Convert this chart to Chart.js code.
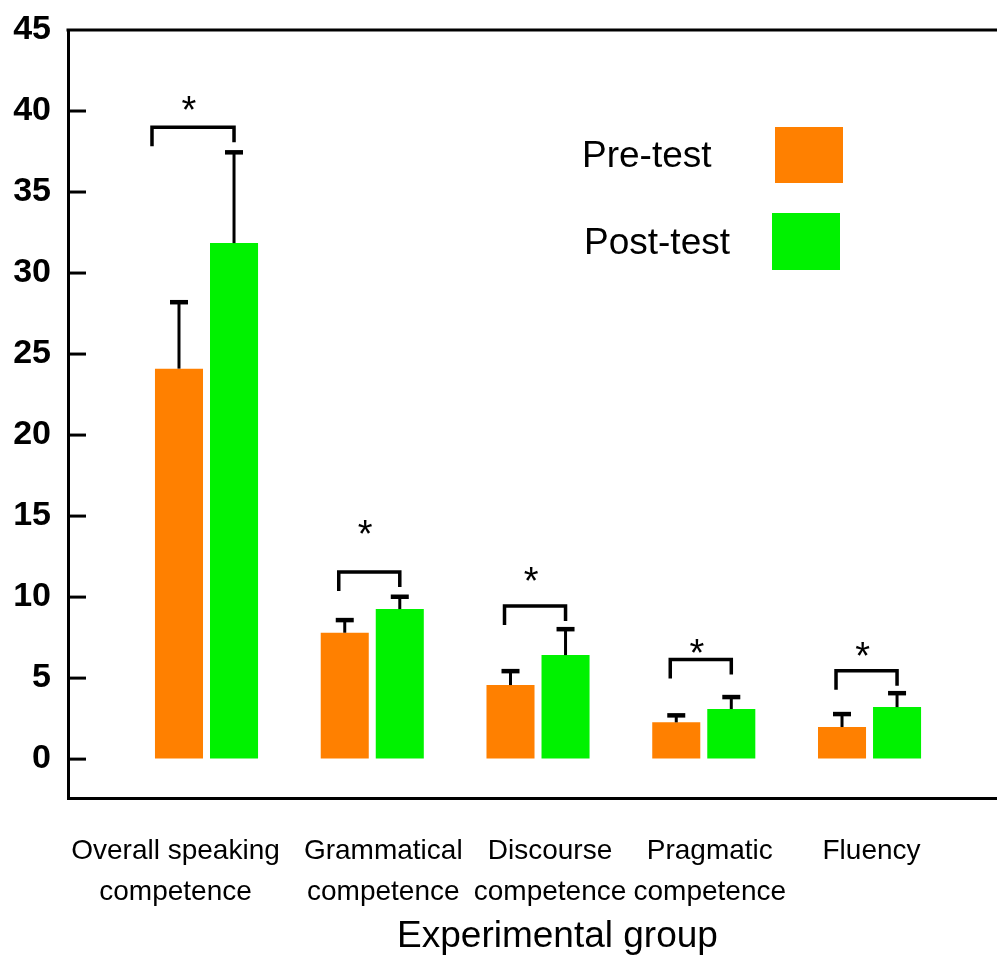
<!DOCTYPE html>
<html>
<head>
<meta charset="utf-8">
<script src="https://cdn.jsdelivr.net/npm/chart.js@4.4.0/dist/chart.umd.min.js"></script>
<style>
  html, body { margin: 0; padding: 0; background: #fff; }
  #wrap { width: 997px; height: 961px; }
</style>
</head>
<body>
<div id="wrap"><canvas id="speakingChart"></canvas></div>
<script>
// values
const categories = [
  ['Overall speaking', 'competence'],
  ['Grammatical', 'competence'],
  ['Discourse', 'competence'],
  ['Pragmatic', 'competence'],
  ['Fluency']
];
const preTest  = [24.1, 7.8, 4.57, 2.27, 1.98];
const postTest = [31.85, 9.26, 6.42, 3.09, 3.21];
const preErr   = [4.1, 0.78, 0.86, 0.43, 0.8];
const postErr  = [5.6, 0.76, 1.6, 0.74, 0.86];
// significance brackets (*) : bracket height and star height, in score units
const bracketTop = [39.0, 11.55, 9.45, 6.15, 5.45];
const starLevel  = [40.6, 14.4, 11.5, 7.1, 6.9];
const yTicks = [0, 5, 10, 15, 20, 25, 30, 35, 40, 45];

const ORANGE = '#ff8000';
const GREEN = '#00f200';
const FONT = "'Liberation Sans', Arial, sans-serif";
// small horizontal nudges (px) so the category labels sit like the original
const labelNudge = [-31, 11, 12, 6, 2];
const bracketNudge = [-21, 0, 0, 0, 0];

const extras = {
  id: 'extras',
  afterDatasetsDraw(chart) {
    const ctx = chart.ctx;
    const area = chart.chartArea;
    const x = chart.scales.x;
    const y = chart.scales.y;
    const pre = chart.getDatasetMeta(0).data;
    const post = chart.getDatasetMeta(1).data;
    ctx.save();
    ctx.strokeStyle = '#000';
    ctx.fillStyle = '#000';

    // top frame line
    ctx.lineWidth = 3;
    ctx.beginPath();
    ctx.moveTo(area.left - 1.5, area.top);
    ctx.lineTo(chart.width, area.top);
    ctx.stroke();

    // inward tick marks
    yTicks.forEach(v => {
      if (v === 45) return;
      const py = y.getPixelForValue(v);
      ctx.beginPath();
      ctx.moveTo(area.left, py);
      ctx.lineTo(area.left + 18, py);
      ctx.stroke();
    });

    // error bars (upper only)
    const drawErr = (bar, val, err) => {
      const top = y.getPixelForValue(val + err);
      ctx.lineWidth = 3;
      ctx.beginPath();
      ctx.moveTo(bar.x, bar.y);
      ctx.lineTo(bar.x, top);
      ctx.stroke();
      ctx.lineWidth = 4.5;
      ctx.beginPath();
      ctx.moveTo(bar.x - 9, top);
      ctx.lineTo(bar.x + 9, top);
      ctx.stroke();
    };
    preTest.forEach((v, i) => drawErr(pre[i], v, preErr[i]));
    postTest.forEach((v, i) => drawErr(post[i], v, postErr[i]));

    // brackets + stars
    ctx.lineWidth = 3.5;
    ctx.font = '38px ' + FONT;
    ctx.textAlign = 'center';
    ctx.textBaseline = 'alphabetic';
    bracketTop.forEach((b, i) => {
      const x1 = pre[i].x - 6 + bracketNudge[i];
      const x2 = post[i].x;
      const by = y.getPixelForValue(b);
      ctx.beginPath();
      ctx.moveTo(x1, by + 19);
      ctx.lineTo(x1, by);
      ctx.lineTo(x2, by);
      ctx.lineTo(x2, by + 15);
      ctx.stroke();
      const sy = y.getPixelForValue(starLevel[i]);
      ctx.fillText('*', (x1 + x2) / 2 - 4, sy + 0.57 * 38);
    });

    // category labels under the x axis
    ctx.font = '28px ' + FONT;
    categories.forEach((lines, i) => {
      const cx = x.getPixelForValue(i + 1) + labelNudge[i];
      lines.forEach((t, k) => ctx.fillText(t, cx, area.bottom + 61 + k * 41));
    });

    // axis title
    ctx.font = '37px ' + FONT;
    ctx.fillText('Experimental group', (area.left + area.right) / 2 + 25, 947);

    // legend
    ctx.textAlign = 'left';
    ctx.font = '37px ' + FONT;
    ctx.fillText('Pre-test', 582, 167);
    ctx.fillText('Post-test', 584, 254);
    ctx.fillStyle = ORANGE;
    ctx.fillRect(775, 127, 68, 56);
    ctx.fillStyle = GREEN;
    ctx.fillRect(772, 213, 68, 57);
    ctx.restore();
  }
};

new Chart(document.getElementById('speakingChart'), {
  type: 'bar',
  data: {
    datasets: [{
      label: 'Pre-test',
      data: preTest.map((v, i) => ({ x: i + 1, y: v })),
      backgroundColor: ORANGE,
      categoryPercentage: 0.664,
      barPercentage: 0.873
    }, {
      label: 'Post-test',
      data: postTest.map((v, i) => ({ x: i + 1, y: v })),
      backgroundColor: GREEN,
      categoryPercentage: 0.664,
      barPercentage: 0.873
    }]
  },
  options: {
    responsive: true,
    maintainAspectRatio: false,
    animation: false,
    layout: { padding: { top: 30, right: 0, bottom: 0, left: 0 } },
    plugins: {
      legend: { display: false },
      tooltip: { enabled: false }
    },
    scales: {
      x: {
        type: 'linear',
        min: 0.1644,
        max: 5.769,
        offset: false,
        grid: { display: false, drawTicks: false },
        border: { display: true, color: '#000', width: 3 },
        afterBuildTicks: s => { s.ticks = categories.map((c, i) => ({ value: i + 1 })); },
        afterFit: s => { s.height = 163; },
        ticks: { display: false }
      },
      y: {
        min: -2.4,
        max: 45,
        // invisible outer ticks give the label gap (tick padding would also pad the top)
        grid: { display: true, drawOnChartArea: false, drawTicks: true, tickLength: 17, color: 'rgba(0,0,0,0)' },
        border: { display: true, color: '#000', width: 3 },
        afterBuildTicks: s => { s.ticks = yTicks.map(v => ({ value: v })); },
        afterFit: s => { s.width = 68; },
        ticks: {
          color: '#000',
          padding: 0,
          font: { family: FONT, size: 34, weight: 'bold' }
        }
      }
    }
  },
  plugins: [extras]
});
</script>
</body>
</html>
